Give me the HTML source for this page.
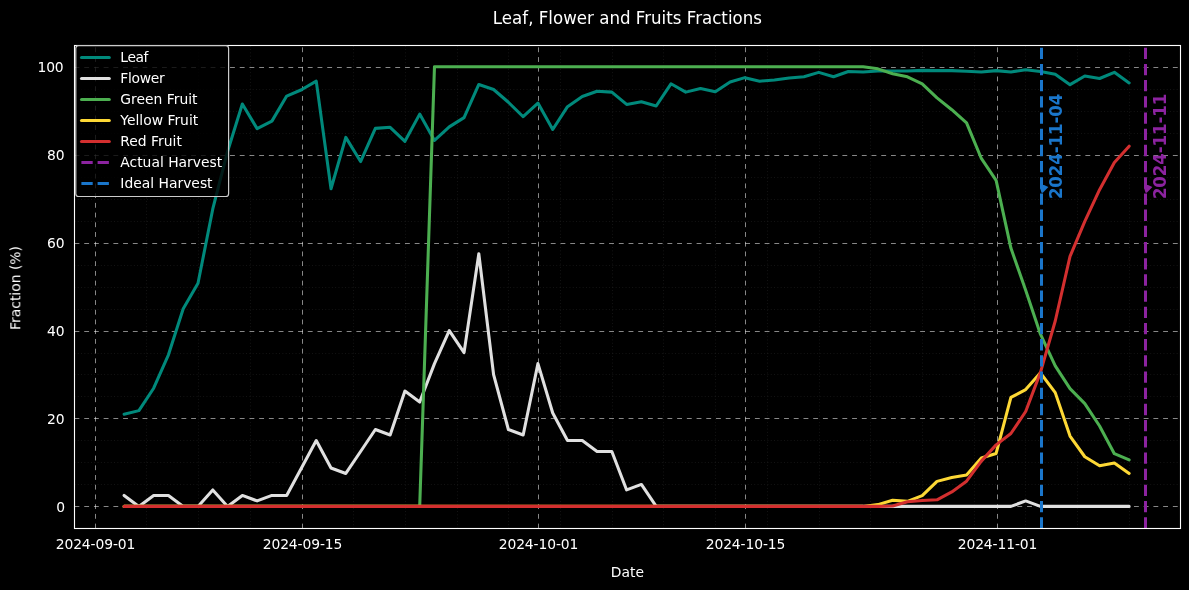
<!DOCTYPE html>
<html lang="en"><head><meta charset="utf-8"><title>Leaf, Flower and Fruits Fractions</title>
<style>html,body{margin:0;padding:0;background:#000;overflow:hidden}svg text{white-space:pre}</style></head>
<body>
<svg width="1189" height="590" viewBox="0 0 1189 590" style="display:block;will-change:transform;font-family:'DejaVu Sans','Liberation Sans',sans-serif">
<rect width="1189" height="590" fill="#000"/>
<filter id="noaa" x="-5%" y="-5%" width="110%" height="110%"><feOffset dx="0" dy="0"/></filter>
<clipPath id="ax"><rect x="74.5" y="45.5" width="1106.0" height="483.0"/></clipPath>
<g clip-path="url(#ax)">
<g stroke="#fff" stroke-opacity="0.095" stroke-width="0.9" stroke-dasharray="0.9 2.4">
<line x1="146.5" y1="528.5" x2="146.5" y2="45.5"/>
<line x1="198.5" y1="528.5" x2="198.5" y2="45.5"/>
<line x1="250.5" y1="528.5" x2="250.5" y2="45.5"/>
<line x1="353.5" y1="528.5" x2="353.5" y2="45.5"/>
<line x1="405.5" y1="528.5" x2="405.5" y2="45.5"/>
<line x1="457.5" y1="528.5" x2="457.5" y2="45.5"/>
<line x1="508.5" y1="528.5" x2="508.5" y2="45.5"/>
<line x1="560.5" y1="528.5" x2="560.5" y2="45.5"/>
<line x1="612.5" y1="528.5" x2="612.5" y2="45.5"/>
<line x1="663.5" y1="528.5" x2="663.5" y2="45.5"/>
<line x1="715.5" y1="528.5" x2="715.5" y2="45.5"/>
<line x1="767.5" y1="528.5" x2="767.5" y2="45.5"/>
<line x1="819.5" y1="528.5" x2="819.5" y2="45.5"/>
<line x1="870.5" y1="528.5" x2="870.5" y2="45.5"/>
<line x1="922.5" y1="528.5" x2="922.5" y2="45.5"/>
<line x1="974.5" y1="528.5" x2="974.5" y2="45.5"/>
<line x1="1025.5" y1="528.5" x2="1025.5" y2="45.5"/>
<line x1="1077.5" y1="528.5" x2="1077.5" y2="45.5"/>
<line x1="1129.5" y1="528.5" x2="1129.5" y2="45.5"/>
<line x1="74.5" y1="528.5" x2="1180.5" y2="528.5"/>
<line x1="74.5" y1="484.5" x2="1180.5" y2="484.5"/>
<line x1="74.5" y1="462.5" x2="1180.5" y2="462.5"/>
<line x1="74.5" y1="440.5" x2="1180.5" y2="440.5"/>
<line x1="74.5" y1="396.5" x2="1180.5" y2="396.5"/>
<line x1="74.5" y1="374.5" x2="1180.5" y2="374.5"/>
<line x1="74.5" y1="353.5" x2="1180.5" y2="353.5"/>
<line x1="74.5" y1="309.5" x2="1180.5" y2="309.5"/>
<line x1="74.5" y1="287.5" x2="1180.5" y2="287.5"/>
<line x1="74.5" y1="265.5" x2="1180.5" y2="265.5"/>
<line x1="74.5" y1="221.5" x2="1180.5" y2="221.5"/>
<line x1="74.5" y1="199.5" x2="1180.5" y2="199.5"/>
<line x1="74.5" y1="177.5" x2="1180.5" y2="177.5"/>
<line x1="74.5" y1="133.5" x2="1180.5" y2="133.5"/>
<line x1="74.5" y1="111.5" x2="1180.5" y2="111.5"/>
<line x1="74.5" y1="89.5" x2="1180.5" y2="89.5"/>
<line x1="74.5" y1="45.5" x2="1180.5" y2="45.5"/>
</g>
<g stroke="#fff" stroke-opacity="0.55" stroke-width="0.97" stroke-dasharray="4.86 4.86">
<line x1="95.5" y1="528.5" x2="95.5" y2="45.5"/>
<line x1="302.5" y1="528.5" x2="302.5" y2="45.5"/>
<line x1="538.5" y1="528.5" x2="538.5" y2="45.5"/>
<line x1="745.5" y1="528.5" x2="745.5" y2="45.5"/>
<line x1="997.5" y1="528.5" x2="997.5" y2="45.5"/>
<line x1="74.5" y1="506.5" x2="1180.5" y2="506.5"/>
<line x1="74.5" y1="418.5" x2="1180.5" y2="418.5"/>
<line x1="74.5" y1="331.5" x2="1180.5" y2="331.5"/>
<line x1="74.5" y1="243.5" x2="1180.5" y2="243.5"/>
<line x1="74.5" y1="155.5" x2="1180.5" y2="155.5"/>
<line x1="74.5" y1="67.5" x2="1180.5" y2="67.5"/>
</g>
<polyline points="124.10,414.15 138.88,410.63 153.66,388.23 168.44,354.84 183.22,308.71 198.00,283.24 212.78,208.99 227.56,151.45 242.34,104.00 257.12,128.60 271.90,121.13 286.68,96.09 301.46,89.72 316.24,81.16 331.02,188.79 345.80,137.39 360.58,161.55 375.36,128.38 390.14,127.28 404.92,141.34 419.70,114.11 434.48,140.46 449.26,126.84 464.04,117.62 478.82,84.45 493.60,89.50 508.38,102.24 523.16,116.74 537.94,103.12 552.72,129.48 567.50,106.64 582.28,96.53 597.06,91.26 611.84,92.14 626.62,104.44 641.40,101.80 656.18,105.98 670.96,83.79 685.74,92.14 700.52,88.41 715.30,91.70 730.08,82.04 744.86,77.64 759.64,81.16 774.42,80.06 789.20,78.08 803.98,76.76 818.76,72.37 833.54,76.76 848.32,71.49 863.10,71.93 877.88,71.05 892.66,71.05 907.44,71.05 922.22,70.39 937.00,70.61 951.78,70.61 966.56,71.27 981.34,71.93 996.12,70.61 1010.90,71.93 1025.68,69.74 1040.46,71.49 1055.24,74.35 1070.02,84.67 1084.80,76.02 1099.58,78.52 1114.36,72.37 1129.14,82.91" fill="none" stroke="#00897B" stroke-width="3.06" stroke-linecap="round" stroke-linejoin="round"/>
<polyline points="124.10,495.42 138.88,506.40 153.66,495.42 168.44,495.42 183.22,506.40 198.00,506.40 212.78,489.93 227.56,506.40 242.34,495.42 257.12,500.91 271.90,495.42 286.68,495.42 301.46,467.96 316.24,440.50 331.02,467.96 345.80,473.45 360.58,451.49 375.36,429.52 390.14,435.01 404.92,391.08 419.70,402.07 434.48,363.63 449.26,330.68 464.04,352.64 478.82,253.80 493.60,374.61 508.38,429.52 523.16,435.01 537.94,363.63 552.72,413.05 567.50,440.50 582.28,440.50 597.06,451.49 611.84,451.49 626.62,489.93 641.40,484.44 656.18,506.40 670.96,506.40 685.74,506.40 700.52,506.40 715.30,506.40 730.08,506.40 744.86,506.40 759.64,506.40 774.42,506.40 789.20,506.40 803.98,506.40 818.76,506.40 833.54,506.40 848.32,506.40 863.10,506.40 877.88,506.40 892.66,506.40 907.44,506.40 922.22,506.40 937.00,506.40 951.78,506.40 966.56,506.40 981.34,506.40 996.12,506.40 1010.90,506.40 1025.68,500.91 1040.46,506.40 1055.24,506.40 1070.02,506.40 1084.80,506.40 1099.58,506.40 1114.36,506.40 1129.14,506.40" fill="none" stroke="#E0E0E0" stroke-width="3.06" stroke-linecap="round" stroke-linejoin="round"/>
<polyline points="124.10,506.40 138.88,506.40 153.66,506.40 168.44,506.40 183.22,506.40 198.00,506.40 212.78,506.40 227.56,506.40 242.34,506.40 257.12,506.40 271.90,506.40 286.68,506.40 301.46,506.40 316.24,506.40 331.02,506.40 345.80,506.40 360.58,506.40 375.36,506.40 390.14,506.40 404.92,506.40 419.70,506.40 434.48,66.66 449.26,66.66 464.04,66.66 478.82,66.66 493.60,66.66 508.38,66.66 523.16,66.66 537.94,66.66 552.72,66.66 567.50,66.66 582.28,66.66 597.06,66.66 611.84,66.66 626.62,66.66 641.40,66.66 656.18,66.66 670.96,66.66 685.74,66.66 700.52,66.66 715.30,66.66 730.08,66.66 744.86,66.66 759.64,66.66 774.42,66.66 789.20,66.66 803.98,66.66 818.76,66.66 833.54,66.66 848.32,66.66 863.10,66.66 877.88,68.86 892.66,73.69 907.44,76.76 922.22,83.79 937.00,97.85 951.78,109.71 966.56,122.89 981.34,158.47 996.12,180.44 1010.90,248.09 1025.68,290.26 1040.46,334.19 1055.24,365.82 1070.02,388.67 1084.80,403.60 1099.58,426.01 1114.36,453.68 1129.14,459.83" fill="none" stroke="#4CAF50" stroke-width="3.06" stroke-linecap="round" stroke-linejoin="round"/>
<polyline points="124.10,506.40 138.88,506.40 153.66,506.40 168.44,506.40 183.22,506.40 198.00,506.40 212.78,506.40 227.56,506.40 242.34,506.40 257.12,506.40 271.90,506.40 286.68,506.40 301.46,506.40 316.24,506.40 331.02,506.40 345.80,506.40 360.58,506.40 375.36,506.40 390.14,506.40 404.92,506.40 419.70,506.40 434.48,506.40 449.26,506.40 464.04,506.40 478.82,506.40 493.60,506.40 508.38,506.40 523.16,506.40 537.94,506.40 552.72,506.40 567.50,506.40 582.28,506.40 597.06,506.40 611.84,506.40 626.62,506.40 641.40,506.40 656.18,506.40 670.96,506.40 685.74,506.40 700.52,506.40 715.30,506.40 730.08,506.40 744.86,506.40 759.64,506.40 774.42,506.40 789.20,506.40 803.98,506.40 818.76,506.40 833.54,506.40 848.32,506.40 863.10,506.40 877.88,504.64 892.66,500.25 907.44,501.35 922.22,495.64 937.00,481.36 951.78,477.41 966.56,474.99 981.34,458.08 996.12,453.46 1010.90,397.45 1025.68,389.55 1040.46,372.85 1055.24,392.62 1070.02,436.11 1084.80,456.76 1099.58,465.76 1114.36,462.91 1129.14,473.45" fill="none" stroke="#FDD835" stroke-width="3.06" stroke-linecap="round" stroke-linejoin="round"/>
<polyline points="124.10,506.40 138.88,506.40 153.66,506.40 168.44,506.40 183.22,506.40 198.00,506.40 212.78,506.40 227.56,506.40 242.34,506.40 257.12,506.40 271.90,506.40 286.68,506.40 301.46,506.40 316.24,506.40 331.02,506.40 345.80,506.40 360.58,506.40 375.36,506.40 390.14,506.40 404.92,506.40 419.70,506.40 434.48,506.40 449.26,506.40 464.04,506.40 478.82,506.40 493.60,506.40 508.38,506.40 523.16,506.40 537.94,506.40 552.72,506.40 567.50,506.40 582.28,506.40 597.06,506.40 611.84,506.40 626.62,506.40 641.40,506.40 656.18,506.40 670.96,506.40 685.74,506.40 700.52,506.40 715.30,506.40 730.08,506.40 744.86,506.40 759.64,506.40 774.42,506.40 789.20,506.40 803.98,506.40 818.76,506.40 833.54,506.40 848.32,506.40 863.10,506.40 877.88,506.40 892.66,505.96 907.44,501.79 922.22,500.47 937.00,499.81 951.78,491.90 966.56,481.14 981.34,461.15 996.12,444.90 1010.90,433.48 1025.68,411.51 1040.46,372.41 1055.24,321.02 1070.02,256.44 1084.80,221.29 1099.58,189.66 1114.36,162.43 1129.14,146.17" fill="none" stroke="#D32F2F" stroke-width="3.06" stroke-linecap="round" stroke-linejoin="round"/>
<line x1="1145.5" y1="528.5" x2="1145.5" y2="45.5" stroke="#8C23A0" stroke-width="3.06" stroke-dasharray="11.3 4.89"/>
<line x1="1041.5" y1="528.5" x2="1041.5" y2="45.5" stroke="#1A76CB" stroke-width="3.06" stroke-dasharray="11.3 4.89"/>
</g>
<rect x="74.5" y="45.5" width="1106.0" height="483.0" fill="none" stroke="#fff" stroke-width="1.11"/>
<polygon points="1040.0,184.8 1044.0,184.9 1048.4,187 1042.8,192.8 1041.6,192.8 1040.0,188" fill="#1A76CB"/>
<polygon points="1144.0,184.8 1148.0,184.9 1152.4,187 1146.8,192.8 1145.6,192.8 1144.0,188" fill="#8C23A0"/>
<rect x="75.8" y="45.6" width="152.8" height="150.9" rx="2.8" fill="#000" fill-opacity="0.8" stroke="#ccc" stroke-width="1.2"/>
<line x1="81.5" y1="57.5" x2="109.3" y2="57.5" stroke="#00897B" stroke-width="3.06" stroke-linecap="round"/>
<line x1="81.5" y1="78.5" x2="109.3" y2="78.5" stroke="#E0E0E0" stroke-width="3.06" stroke-linecap="round"/>
<line x1="81.5" y1="99.5" x2="109.3" y2="99.5" stroke="#4CAF50" stroke-width="3.06" stroke-linecap="round"/>
<line x1="81.5" y1="120.5" x2="109.3" y2="120.5" stroke="#FDD835" stroke-width="3.06" stroke-linecap="round"/>
<line x1="81.5" y1="141.5" x2="109.3" y2="141.5" stroke="#D32F2F" stroke-width="3.06" stroke-linecap="round"/>
<line x1="81.4" y1="162.5" x2="109.2" y2="162.5" stroke="#8C23A0" stroke-width="3.06" stroke-dasharray="11.3 4.89"/>
<line x1="81.4" y1="183.5" x2="109.2" y2="183.5" stroke="#1A76CB" stroke-width="3.06" stroke-dasharray="11.3 4.89"/>
<g filter="url(#noaa)">
<text transform="translate(1061.7,199.1) rotate(-90) scale(1,1.075)" font-size="16.67" font-weight="bold" letter-spacing="-0.12" fill="#1A76CB">2024-11-04</text>
<text transform="translate(1165.7,199.1) rotate(-90) scale(1,1.075)" font-size="16.67" font-weight="bold" letter-spacing="-0.12" fill="#8C23A0">2024-11-11</text>
<text x="120.3" y="61.9" font-size="13.89" letter-spacing="-0.4" fill="#fff">Leaf</text>
<text x="120.3" y="82.9" font-size="13.89" letter-spacing="-0.3" fill="#fff">Flower</text>
<text x="120.3" y="103.9" font-size="13.89" letter-spacing="0" fill="#fff">Green Fruit</text>
<text x="120.3" y="124.9" font-size="13.89" letter-spacing="0" fill="#fff">Yellow Fruit</text>
<text x="120.3" y="145.9" font-size="13.89" letter-spacing="0" fill="#fff">Red Fruit</text>
<text x="120.3" y="166.9" font-size="13.89" letter-spacing="0" fill="#fff">Actual Harvest</text>
<text x="120.3" y="187.9" font-size="13.89" letter-spacing="0" fill="#fff">Ideal Harvest</text>
<text x="95.5" y="549" font-size="13.89" letter-spacing="-0.1" fill="#fff" text-anchor="middle">2024-09-01</text>
<text x="302.5" y="549" font-size="13.89" letter-spacing="-0.1" fill="#fff" text-anchor="middle">2024-09-15</text>
<text x="538.5" y="549" font-size="13.89" letter-spacing="-0.1" fill="#fff" text-anchor="middle">2024-10-01</text>
<text x="745.5" y="549" font-size="13.89" letter-spacing="-0.1" fill="#fff" text-anchor="middle">2024-10-15</text>
<text x="997.5" y="549" font-size="13.89" letter-spacing="-0.1" fill="#fff" text-anchor="middle">2024-11-01</text>
<text x="64.8" y="511.5" font-size="13.89" letter-spacing="-0.2" fill="#fff" text-anchor="end">0</text>
<text x="64.3" y="423.6" font-size="13.89" letter-spacing="-0.2" fill="#fff" text-anchor="end">20</text>
<text x="64.3" y="335.8" font-size="13.89" letter-spacing="-0.2" fill="#fff" text-anchor="end">40</text>
<text x="64.3" y="247.9" font-size="13.89" letter-spacing="-0.2" fill="#fff" text-anchor="end">60</text>
<text x="64.3" y="160.1" font-size="13.89" letter-spacing="-0.2" fill="#fff" text-anchor="end">80</text>
<text x="63.4" y="72.2" font-size="13.89" letter-spacing="-0.2" fill="#fff" text-anchor="end">100</text>
<text x="627.4" y="577" font-size="13.89" fill="#fff" text-anchor="middle">Date</text>
<text transform="translate(20.3,288) rotate(-90)" font-size="13.89" fill="#fff" text-anchor="middle">Fraction (%)</text>
<text transform="translate(627.4,23.8) scale(1,1.075)" font-size="16.67" fill="#fff" text-anchor="middle">Leaf, Flower and Fruits Fractions</text>
</g>
</svg>
</body></html>
